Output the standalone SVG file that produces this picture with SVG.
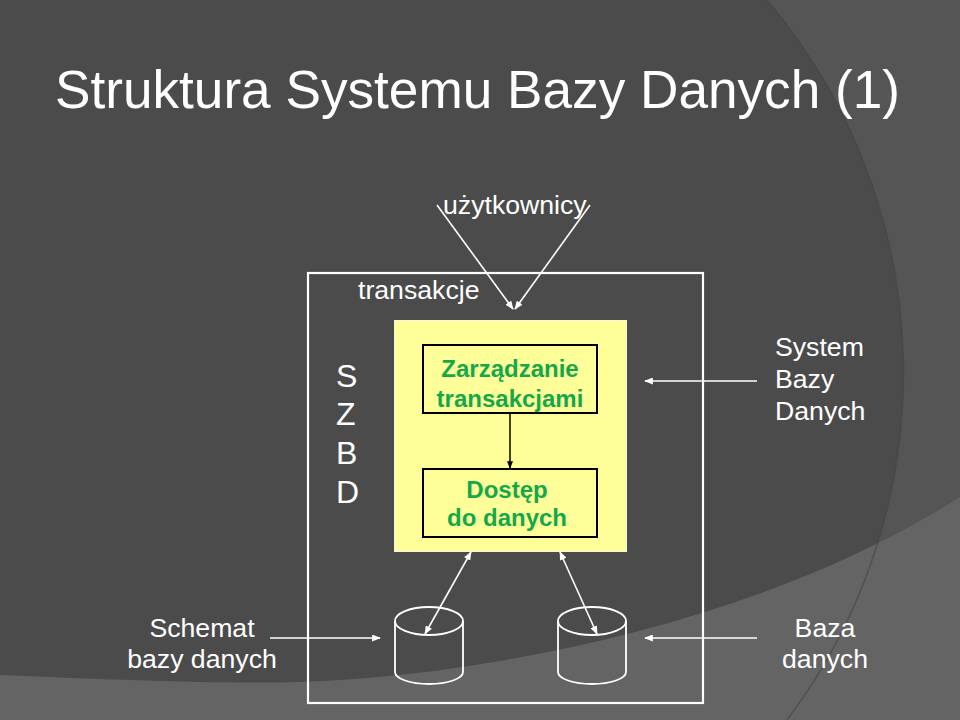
<svg xmlns="http://www.w3.org/2000/svg" width="960" height="720" viewBox="0 0 960 720">
  <defs>
    <style>
      .t { font-family: "Liberation Sans", Arial, sans-serif; fill: #ffffff; }
      .lbl { font-size: 26.67px; }
      .mid { text-anchor: middle; }
      .big { font-size: 32px; }
      .g { font-family: "Liberation Sans", Arial, sans-serif; font-weight: bold; font-size: 24px; fill: #14a84a; text-anchor: middle; }
      .wl { stroke: #ffffff; stroke-width: 1.6; fill: none; }
      .bl { stroke: #000000; stroke-width: 1.5; fill: none; }
      .cyl { stroke: #ffffff; stroke-width: 1.8; fill: none; }
    </style>
    <marker id="aw" viewBox="0 0 10 8" refX="9" refY="4" markerWidth="9" markerHeight="7" markerUnits="userSpaceOnUse" orient="auto-start-reverse">
      <path d="M0,0 L10,4 L0,8 Z" fill="#ffffff"/>
    </marker>
    <marker id="ab" viewBox="0 0 10 8" refX="9" refY="4" markerWidth="8" markerHeight="6" markerUnits="userSpaceOnUse" orient="auto">
      <path d="M0,0 L10,4 L0,8 Z" fill="#000000"/>
    </marker>
  </defs>

  <g id="background">
    <rect x="0" y="0" width="960" height="720" fill="#4b4b4b"/>
    <path d="M767,0 A576.5,576.5 0 0 1 787,720 L960,720 L960,0 Z" fill="#555555"/>
    <path d="M0,675 C120,680 220,684 300,682 C480,676 760,625 960,497 L960,720 L0,720 Z" fill="#646464"/>
    <path d="M767,0 A576.5,576.5 0 0 1 787,720" fill="none" stroke="#444444" stroke-width="1.5" opacity="0.6"/>
  </g>

  <g id="title">
    <text class="t" x="55" y="108" font-size="53.33" textLength="845" lengthAdjust="spacingAndGlyphs">Struktura Systemu Bazy Danych (1)</text>
  </g>

  <g id="users">
    <text class="t lbl" x="443" y="214">użytkownicy</text>
  </g>

  <g id="szbd-frame">
    <rect x="308" y="273" width="395" height="430" fill="none" stroke="#ffffff" stroke-width="2.2"/>
    <text class="t lbl" x="358" y="299">transakcje</text>
    <text class="t big" x="336" y="387">S</text>
    <text class="t big" x="336" y="425">Z</text>
    <text class="t big" x="336" y="464">B</text>
    <text class="t big" x="336" y="503">D</text>
  </g>

  <g id="dbms-core">
    <rect x="394.5" y="320.5" width="232" height="231" fill="#ffff99" stroke="#f4f4d8" stroke-width="1"/>
  </g>

  <g id="transaction-mgmt">
    <rect x="423" y="345" width="174" height="68" fill="none" stroke="#000000" stroke-width="2"/>
    <text class="g" x="510" y="377">Zarządzanie</text>
    <text class="g" x="510" y="407">transakcjami</text>
  </g>

  <g id="data-access">
    <rect x="423" y="469" width="174" height="68" fill="none" stroke="#000000" stroke-width="2"/>
    <text class="g" x="507" y="498">Dostęp</text>
    <text class="g" x="507" y="526">do danych</text>
  </g>

  <g id="db-schema">
    <ellipse class="cyl" cx="429" cy="621" rx="34" ry="14"/>
    <path class="cyl" d="M395,621 L395,672 A34,12 0 0 0 463,672 L463,621"/>
  </g>

  <g id="database">
    <ellipse class="cyl" cx="592" cy="621" rx="34" ry="14"/>
    <path class="cyl" d="M558,621 L558,672 A34,12 0 0 0 626,672 L626,621"/>
  </g>

  <g id="label-schemat">
    <text class="t lbl mid" x="202" y="637">Schemat</text>
    <text class="t lbl mid" x="202" y="668">bazy danych</text>
  </g>

  <g id="label-system">
    <text class="t lbl" x="775" y="356">System</text>
    <text class="t lbl" x="775" y="388">Bazy</text>
    <text class="t lbl" x="775" y="420">Danych</text>
  </g>

  <g id="label-baza">
    <text class="t lbl mid" x="825" y="637">Baza</text>
    <text class="t lbl mid" x="825" y="668">danych</text>
  </g>

  <g id="connectors">
    <line class="wl" x1="437" y1="205" x2="513" y2="309" marker-end="url(#aw)"/>
    <line class="wl" x1="590" y1="205" x2="515" y2="309" marker-end="url(#aw)"/>
    <line class="bl" x1="510" y1="413" x2="510" y2="468" marker-end="url(#ab)"/>
    <line class="wl" x1="471" y1="552" x2="425" y2="634" marker-start="url(#aw)" marker-end="url(#aw)"/>
    <line class="wl" x1="560" y1="552" x2="597" y2="634" marker-start="url(#aw)" marker-end="url(#aw)"/>
    <line class="wl" x1="270" y1="638" x2="380" y2="638" marker-end="url(#aw)"/>
    <line class="wl" x1="757" y1="381" x2="645" y2="381" marker-end="url(#aw)"/>
    <line class="wl" x1="757" y1="638" x2="645" y2="638" marker-end="url(#aw)"/>
  </g>
</svg>
